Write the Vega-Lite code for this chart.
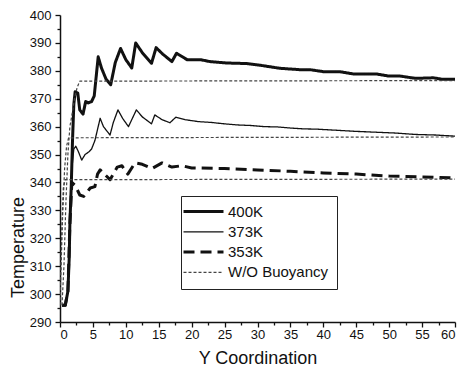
{
  "$schema": "https://vega.github.io/schema/vega-lite/v6.json",
  "width": 395,
  "height": 307,
  "autosize": {"type": "none"},
  "padding": {"left": 60, "top": 15, "right": 10, "bottom": 47},
  "background": "white",
  "config": {
    "view": {"stroke": null},
    "font": "Liberation Sans",
    "axis": {
      "grid": false,
      "domainColor": "#111",
      "domainWidth": 1.5,
      "tickColor": "#111",
      "tickWidth": 1.3,
      "tickSize": 5,
      "labelFont": "Liberation Sans",
      "labelFontSize": 13,
      "labelColor": "#111",
      "titleFont": "Liberation Sans",
      "titleFontSize": 18,
      "titleFontWeight": "normal",
      "titleColor": "#111"
    },
    "legend": {
      "orient": "none",
      "legendX": 121,
      "legendY": 181,
      "strokeColor": "#222",
      "fillColor": "white",
      "padding": 8,
      "symbolType": "M-2.6,0H5.4",
      "symbolSize": 100,
      "labelFont": "Liberation Sans",
      "labelFontSize": 15,
      "labelColor": "#111",
      "labelOffset": 24,
      "rowPadding": 4.3
    }
  },
  "datasets": {
    "curves": [
      {"x": 0.3, "T": 296, "series": "400K", "run": "a400"},
      {"x": 0.8, "T": 296, "series": "400K", "run": "a400"},
      {"x": 1.2, "T": 301, "series": "400K", "run": "a400"},
      {"x": 1.4, "T": 313, "series": "400K", "run": "a400"},
      {"x": 1.5, "T": 325, "series": "400K", "run": "a400"},
      {"x": 1.7, "T": 338, "series": "400K", "run": "a400"},
      {"x": 1.9, "T": 355, "series": "400K", "run": "a400"},
      {"x": 2.1, "T": 368, "series": "400K", "run": "a400"},
      {"x": 2.3, "T": 372.5, "series": "400K", "run": "a400"},
      {"x": 2.7, "T": 372, "series": "400K", "run": "a400"},
      {"x": 3.0, "T": 366, "series": "400K", "run": "a400"},
      {"x": 3.5, "T": 364.5, "series": "400K", "run": "a400"},
      {"x": 3.9, "T": 369, "series": "400K", "run": "a400"},
      {"x": 4.3, "T": 368.5, "series": "400K", "run": "a400"},
      {"x": 4.8, "T": 369, "series": "400K", "run": "a400"},
      {"x": 5.2, "T": 371, "series": "400K", "run": "a400"},
      {"x": 5.5, "T": 378, "series": "400K", "run": "a400"},
      {"x": 5.8, "T": 385, "series": "400K", "run": "a400"},
      {"x": 6.3, "T": 381, "series": "400K", "run": "a400"},
      {"x": 7.0, "T": 377, "series": "400K", "run": "a400"},
      {"x": 7.7, "T": 375, "series": "400K", "run": "a400"},
      {"x": 8.4, "T": 383, "series": "400K", "run": "a400"},
      {"x": 9.2, "T": 388, "series": "400K", "run": "a400"},
      {"x": 10.0, "T": 384, "series": "400K", "run": "a400"},
      {"x": 10.9, "T": 381, "series": "400K", "run": "a400"},
      {"x": 11.5, "T": 390, "series": "400K", "run": "a400"},
      {"x": 12.5, "T": 386.5, "series": "400K", "run": "a400"},
      {"x": 13.9, "T": 382.7, "series": "400K", "run": "a400"},
      {"x": 14.6, "T": 388.3, "series": "400K", "run": "a400"},
      {"x": 15.6, "T": 386, "series": "400K", "run": "a400"},
      {"x": 17.0, "T": 383.3, "series": "400K", "run": "a400"},
      {"x": 17.7, "T": 386.3, "series": "400K", "run": "a400"},
      {"x": 19.3, "T": 384, "series": "400K", "run": "a400"},
      {"x": 21.3, "T": 384, "series": "400K", "run": "a400"},
      {"x": 22.8, "T": 383.3, "series": "400K", "run": "a400"},
      {"x": 25.3, "T": 382.8, "series": "400K", "run": "a400"},
      {"x": 28.4, "T": 382.6, "series": "400K", "run": "a400"},
      {"x": 30.4, "T": 382, "series": "400K", "run": "a400"},
      {"x": 33.4, "T": 380.9, "series": "400K", "run": "a400"},
      {"x": 36.5, "T": 380.4, "series": "400K", "run": "a400"},
      {"x": 38.0, "T": 380.4, "series": "400K", "run": "a400"},
      {"x": 40.0, "T": 379.7, "series": "400K", "run": "a400"},
      {"x": 42.5, "T": 379.7, "series": "400K", "run": "a400"},
      {"x": 44.5, "T": 378.9, "series": "400K", "run": "a400"},
      {"x": 48.0, "T": 378.9, "series": "400K", "run": "a400"},
      {"x": 50.0, "T": 378.1, "series": "400K", "run": "a400"},
      {"x": 51.7, "T": 378.1, "series": "400K", "run": "a400"},
      {"x": 54.0, "T": 377.3, "series": "400K", "run": "a400"},
      {"x": 56.7, "T": 377.5, "series": "400K", "run": "a400"},
      {"x": 58.0, "T": 377, "series": "400K", "run": "a400"},
      {"x": 60.0, "T": 377, "series": "400K", "run": "a400"},

      {"x": 0.3, "T": 296, "series": "373K", "run": "b373"},
      {"x": 0.8, "T": 296, "series": "373K", "run": "b373"},
      {"x": 1.2, "T": 301, "series": "373K", "run": "b373"},
      {"x": 1.5, "T": 325, "series": "373K", "run": "b373"},
      {"x": 1.8, "T": 345, "series": "373K", "run": "b373"},
      {"x": 2.1, "T": 352, "series": "373K", "run": "b373"},
      {"x": 2.4, "T": 353, "series": "373K", "run": "b373"},
      {"x": 2.8, "T": 351, "series": "373K", "run": "b373"},
      {"x": 3.3, "T": 348, "series": "373K", "run": "b373"},
      {"x": 3.8, "T": 350, "series": "373K", "run": "b373"},
      {"x": 4.4, "T": 351, "series": "373K", "run": "b373"},
      {"x": 4.8, "T": 352, "series": "373K", "run": "b373"},
      {"x": 5.3, "T": 355, "series": "373K", "run": "b373"},
      {"x": 5.7, "T": 359, "series": "373K", "run": "b373"},
      {"x": 6.1, "T": 363, "series": "373K", "run": "b373"},
      {"x": 6.6, "T": 360, "series": "373K", "run": "b373"},
      {"x": 7.6, "T": 357, "series": "373K", "run": "b373"},
      {"x": 8.1, "T": 361.5, "series": "373K", "run": "b373"},
      {"x": 8.8, "T": 366, "series": "373K", "run": "b373"},
      {"x": 9.5, "T": 363, "series": "373K", "run": "b373"},
      {"x": 10.4, "T": 360, "series": "373K", "run": "b373"},
      {"x": 11.6, "T": 366, "series": "373K", "run": "b373"},
      {"x": 12.5, "T": 363.5, "series": "373K", "run": "b373"},
      {"x": 13.9, "T": 361, "series": "373K", "run": "b373"},
      {"x": 14.4, "T": 364.2, "series": "373K", "run": "b373"},
      {"x": 15.5, "T": 362.5, "series": "373K", "run": "b373"},
      {"x": 16.7, "T": 361.4, "series": "373K", "run": "b373"},
      {"x": 17.6, "T": 363.4, "series": "373K", "run": "b373"},
      {"x": 19.0, "T": 362.5, "series": "373K", "run": "b373"},
      {"x": 21.0, "T": 361.8, "series": "373K", "run": "b373"},
      {"x": 23.0, "T": 361.5, "series": "373K", "run": "b373"},
      {"x": 25.0, "T": 361, "series": "373K", "run": "b373"},
      {"x": 27.0, "T": 360.6, "series": "373K", "run": "b373"},
      {"x": 29.0, "T": 360.4, "series": "373K", "run": "b373"},
      {"x": 31.0, "T": 360, "series": "373K", "run": "b373"},
      {"x": 33.0, "T": 359.9, "series": "373K", "run": "b373"},
      {"x": 35.0, "T": 359.5, "series": "373K", "run": "b373"},
      {"x": 37.0, "T": 359.2, "series": "373K", "run": "b373"},
      {"x": 39.0, "T": 359.1, "series": "373K", "run": "b373"},
      {"x": 42.0, "T": 358.7, "series": "373K", "run": "b373"},
      {"x": 45.0, "T": 358.3, "series": "373K", "run": "b373"},
      {"x": 48.0, "T": 358, "series": "373K", "run": "b373"},
      {"x": 51.0, "T": 357.7, "series": "373K", "run": "b373"},
      {"x": 54.0, "T": 357.2, "series": "373K", "run": "b373"},
      {"x": 57.0, "T": 357, "series": "373K", "run": "b373"},
      {"x": 60.0, "T": 356.6, "series": "373K", "run": "b373"},

      {"x": 0.3, "T": 296, "series": "353K", "run": "c353"},
      {"x": 0.8, "T": 296, "series": "353K", "run": "c353"},
      {"x": 1.2, "T": 301, "series": "353K", "run": "c353"},
      {"x": 1.5, "T": 325, "series": "353K", "run": "c353"},
      {"x": 1.8, "T": 340, "series": "353K", "run": "c353"},
      {"x": 2.3, "T": 339, "series": "353K", "run": "c353"},
      {"x": 3.0, "T": 335.5, "series": "353K", "run": "c353"},
      {"x": 3.6, "T": 335, "series": "353K", "run": "c353"},
      {"x": 4.6, "T": 338, "series": "353K", "run": "c353"},
      {"x": 5.3, "T": 338.5, "series": "353K", "run": "c353"},
      {"x": 5.7, "T": 343, "series": "353K", "run": "c353"},
      {"x": 6.1, "T": 344.5, "series": "353K", "run": "c353"},
      {"x": 7.6, "T": 341, "series": "353K", "run": "c353"},
      {"x": 8.7, "T": 345.5, "series": "353K", "run": "c353"},
      {"x": 9.4, "T": 346, "series": "353K", "run": "c353"},
      {"x": 10.3, "T": 343, "series": "353K", "run": "c353"},
      {"x": 11.4, "T": 347, "series": "353K", "run": "c353"},
      {"x": 12.5, "T": 346.5, "series": "353K", "run": "c353"},
      {"x": 14.0, "T": 345, "series": "353K", "run": "c353"},
      {"x": 15.5, "T": 347, "series": "353K", "run": "c353"},
      {"x": 17.0, "T": 345.5, "series": "353K", "run": "c353"},
      {"x": 18.5, "T": 346, "series": "353K", "run": "c353"},
      {"x": 20.0, "T": 345.2, "series": "353K", "run": "c353"},
      {"x": 25.0, "T": 345, "series": "353K", "run": "c353"},
      {"x": 30.0, "T": 344.5, "series": "353K", "run": "c353"},
      {"x": 35.0, "T": 344, "series": "353K", "run": "c353"},
      {"x": 40.0, "T": 343.4, "series": "353K", "run": "c353"},
      {"x": 45.0, "T": 343, "series": "353K", "run": "c353"},
      {"x": 50.0, "T": 342.3, "series": "353K", "run": "c353"},
      {"x": 55.0, "T": 342, "series": "353K", "run": "c353"},
      {"x": 60.0, "T": 341.6, "series": "353K", "run": "c353"},

      {"x": 0.3, "T": 296, "series": "W/O Buoyancy", "run": "d400"},
      {"x": 0.6, "T": 310, "series": "W/O Buoyancy", "run": "d400"},
      {"x": 0.9, "T": 333, "series": "W/O Buoyancy", "run": "d400"},
      {"x": 1.2, "T": 350, "series": "W/O Buoyancy", "run": "d400"},
      {"x": 1.5, "T": 360, "series": "W/O Buoyancy", "run": "d400"},
      {"x": 1.8, "T": 364, "series": "W/O Buoyancy", "run": "d400"},
      {"x": 2.2, "T": 370, "series": "W/O Buoyancy", "run": "d400"},
      {"x": 2.6, "T": 374, "series": "W/O Buoyancy", "run": "d400"},
      {"x": 3.0, "T": 376.3, "series": "W/O Buoyancy", "run": "d400"},
      {"x": 60.0, "T": 376.5, "series": "W/O Buoyancy", "run": "d400"},

      {"x": 0.0, "T": 296, "series": "W/O Buoyancy", "run": "d373"},
      {"x": 0.1, "T": 305, "series": "W/O Buoyancy", "run": "d373"},
      {"x": 0.4, "T": 328, "series": "W/O Buoyancy", "run": "d373"},
      {"x": 0.7, "T": 345, "series": "W/O Buoyancy", "run": "d373"},
      {"x": 1.0, "T": 353, "series": "W/O Buoyancy", "run": "d373"},
      {"x": 1.3, "T": 356, "series": "W/O Buoyancy", "run": "d373"},
      {"x": 60.0, "T": 356.3, "series": "W/O Buoyancy", "run": "d373"},

      {"x": 0.0, "T": 296, "series": "W/O Buoyancy", "run": "d353"},
      {"x": 0.05, "T": 305, "series": "W/O Buoyancy", "run": "d353"},
      {"x": 0.3, "T": 325, "series": "W/O Buoyancy", "run": "d353"},
      {"x": 0.5, "T": 338, "series": "W/O Buoyancy", "run": "d353"},
      {"x": 0.8, "T": 341, "series": "W/O Buoyancy", "run": "d353"},
      {"x": 60.0, "T": 341.2, "series": "W/O Buoyancy", "run": "d353"}
    ]
  },
  "layer": [
    {
      "data": {"name": "curves"},
      "mark": {"type": "line", "strokeJoin": "round", "clip": true},
      "encoding": {
        "x": {
          "field": "x", "type": "quantitative",
          "scale": {"domain": [0, 60], "nice": false},
          "axis": {"orient": "bottom", "values": [0,5,10,15,20,25,30,35,40,45,50,55,60], "title": "Y Coordination", "labelPadding": 1, "titleBaseline": "alphabetic", "titleY": 41}
        },
        "y": {
          "field": "T", "type": "quantitative",
          "scale": {"domain": [290, 400], "nice": false, "zero": false},
          "axis": {"orient": "left", "values": [290,300,310,320,330,340,350,360,370,380,390,400], "title": "Temperature", "labelPadding": 4, "titleAngle": -90, "titleBaseline": "alphabetic", "titleAlign": "center", "titleX": -37, "titleY": 232}
        },
        "detail": {"field": "run"},
        "color": {
          "field": "series", "type": "nominal",
          "scale": {"domain": ["400K", "373K", "353K", "W/O Buoyancy"], "range": ["#111111", "#111111", "#111111", "#444444"]},
          "legend": {"title": null}
        },
        "strokeDash": {
          "field": "series", "type": "nominal",
          "scale": {"domain": ["400K", "373K", "353K", "W/O Buoyancy"], "range": [[1, 0], [1, 0], [11, 6], [3, 2]]},
          "legend": {"title": null}
        },
        "strokeWidth": {
          "field": "series", "type": "nominal",
          "scale": {"type": "ordinal", "domain": ["400K", "373K", "353K", "W/O Buoyancy"], "range": [3, 1.3, 3, 1.2]},
          "legend": {"title": null}
        }
      }
    },
    {
      "data": {"name": "curves"},
      "mark": {"type": "line", "opacity": 0},
      "encoding": {
        "x": {
          "field": "x", "type": "quantitative",
          "axis": {"orient": "bottom", "values": [2.5,7.5,12.5,17.5,22.5,27.5,32.5,37.5,42.5,47.5,52.5,57.5], "labels": false, "domain": false, "tickSize": 3, "title": null}
        },
        "y": {
          "field": "T", "type": "quantitative",
          "axis": {"orient": "left", "values": [295,305,315,325,335,345,355,365,375,385,395], "labels": false, "domain": false, "tickSize": 3, "title": null}
        },
        "detail": {"field": "run"}
      }
    }
  ],
  "resolve": {"axis": {"x": "independent", "y": "independent"}}
}
